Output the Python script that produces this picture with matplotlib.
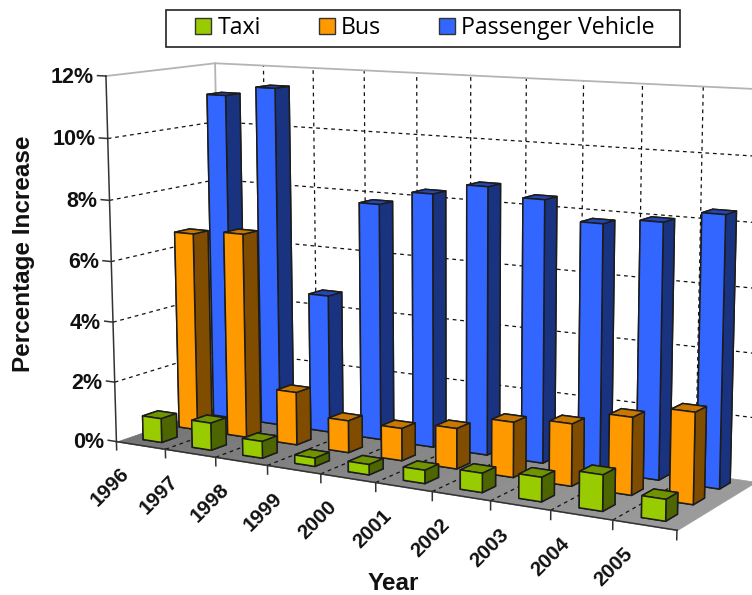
import numpy as np
import matplotlib
matplotlib.use("Agg")
import matplotlib.pyplot as plt
from matplotlib.patches import Patch, Rectangle
from mpl_toolkits.mplot3d import Axes3D
from mpl_toolkits.mplot3d.art3d import Poly3DCollection

# ---- data -------------------------------------------------------------
years = [1996, 1997, 1998, 1999, 2000, 2001, 2002, 2003, 2004, 2005]
taxi = [0.8, 0.9, 0.55, 0.27, 0.33, 0.42, 0.6, 0.75, 1.1, 0.65]
bus = [6.65, 6.8, 1.75, 1.05, 1.05, 1.3, 1.75, 1.95, 2.4, 2.8]
passenger = [11.07, 11.4, 4.62, 7.82, 8.3, 8.67, 8.4, 7.8, 8.0, 8.38]
series_names = ["Taxi", "Bus", "Passenger Vehicle"]
y_ticks = [0, 2, 4, 6, 8, 10, 12]

W, H = 752, 595
FACE = ["#99CC00", "#FF9900", "#3366FF"]
SIDE = ["#4D6600", "#804D00", "#1A3380"]
TOP = ["#6F9400", "#C87800", "#2548B8"]

# ---- camera: fit a projective map (category, depth, percent) -> pixels --
calib = [
    (0, 0, 0, 116.5, 441.7), (10, 0, 0, 677.7, 530), (0, 1, 0, 222, 405),
    (10, 1, 0, 756, 482), (0, 0, 12, 106, 76), (0, 1, 12, 215, 63),
    (10, 1, 12, 766, 89.7), (0, 0, 6, 111.5, 262), (0, 1, 6, 218.5, 237),
    (5, 0, 0, 376, 482.5), (5, 1, 12, 471, 75.4), (9, 1, 12, 703, 86.6),
    (9, 1, 6, 699, 283), (2, 1, 12, 313, 67.7), (2, 0, 0, 215, 457.2),
    (8, 0, 0, 550, 510),
]
rows = []
for X, Y, Z, px, py in calib:
    py = H - py
    rows.append([X, Y, Z, 1, 0, 0, 0, 0, -px * X, -px * Y, -px * Z, -px])
    rows.append([0, 0, 0, 0, X, Y, Z, 1, -py * X, -py * Y, -py * Z, -py])
P = np.linalg.svd(np.array(rows, float))[2][-1].reshape(3, 4)
P = P / P[2, 3]


def to_px(X, Y, Z):
    v = P @ np.array([X, Y, Z, 1.0])
    return v[0] / v[2], H - v[1] / v[2]


fig = plt.figure(figsize=(W / 100, H / 100), dpi=100, facecolor="white")
ax = fig.add_axes([0, 0, 1, 1], projection="3d")
ax.apply_aspect = lambda position=None: None
ax.set_position([0, 0, 1, 1])
ax.set_axis_off()
ax.computed_zorder = False
A = ax.transData.inverted().get_matrix()
depth_row = np.array([-0.02, 1.0, -0.01, -3.0])
M = np.vstack([
    A[0, 0] * P[0] + A[0, 1] * P[1] + A[0, 2] * P[2],
    A[1, 0] * P[0] + A[1, 1] * P[1] + A[1, 2] * P[2],
    depth_row,
    P[2],
])
ax.get_proj = lambda: M

# ---- floor ---------------------------------------------------------------
steps = np.linspace(0, 10, 41)
for a, b in zip(steps[:-1], steps[1:]):
    g = 0.46 + 0.15 * a / 10
    c = (g, g, g)
    ax.add_collection3d(Poly3DCollection(
        [[(a, 0, 0), (b, 0, 0), (b, 1, 0), (a, 1, 0)]],
        facecolors=[c], edgecolors=[c], linewidths=0.5, zorder=1))

# ---- grid ----------------------------------------------------------------
dash = dict(color="#111111", lw=0.9, linestyle=(0, (3, 3)), zorder=3)
for z in y_ticks[1:-1]:
    ax.plot([0, 0, 10], [0, 1, 1], [z, z, z], **dash)
for x in range(1, 10):
    ax.plot([x, x], [1, 1], [0, 12], **dash)
    ax.plot([x, x], [0, 1], [0, 0], **dash)
ax.plot([0, 0, 10], [0, 1, 1], [12, 12, 12], color="#B4B4B4", lw=1.3, zorder=3)
ax.plot([0, 0], [1, 1], [0, 12], color="#B4B4B4", lw=1.3, zorder=3)

# ---- axes lines and ticks ---------------------------------------------------
dark = dict(color="#333333", lw=1.1, zorder=4)
ax.plot([0, 0], [0, 0], [0, 12], **dark)
ax.plot([0, 10], [0, 0], [0, 0], **dark)
for z in y_ticks:
    ax.plot([-0.17, 0], [0, 0], [z, z], **dark)
for x in range(0, 11):
    ax.plot([x, x], [0, 0], [-0.28, 0], **dark)

# ---- bars (back row first, left to right) -----------------------------------
BAR_X, BAR_W = 0.30, 0.38
ROW_Y, ROW_D = [0.11, 0.11 + 1 / 3, 0.11 + 2 / 3], 0.14
order = 10
for r, vals in reversed(list(enumerate([taxi, bus, passenger]))):
    for i, v in enumerate(vals):
        faces = [SIDE[r], TOP[r], FACE[r], SIDE[r], SIDE[r], SIDE[r]]
        ax.bar3d(i + BAR_X, ROW_Y[r], 0, BAR_W, ROW_D, v, color=faces,
                 shade=False, edgecolor="#1c1c1c", linewidth=1.1, zorder=order)
        order += 1

# ---- text -------------------------------------------------------------------
bold = dict(family="Liberation Sans", fontweight="bold", color="#111111")


def label(px, py, s, **kw):
    fig.text(px / W, 1 - py / H, s, **kw)


for z in y_ticks:
    px, py = to_px(0, 0, z)
    label(px - 12, py + 1, f"{z}%", ha="right", va="center", fontsize=15.5, **bold)
for i, yr in enumerate(years):
    px, py = to_px(i + 0.5, 0, 0)
    label(px - 31, py + 42, str(yr), ha="center", va="center", rotation=45,
          rotation_mode="anchor", fontsize=14.8, **bold)
label(24, 254, "Percentage Increase", ha="center", va="center", rotation=90,
      fontsize=17.5, **bold)
label(393, 584, "Year", ha="center", va="center", fontsize=17.5, **bold)

fig.add_artist(Rectangle((166 / W, 1 - 47 / H), 514 / W, 37 / H, transform=fig.transFigure,
                         facecolor="white", edgecolor="#222222", linewidth=1.2))
handles = [Patch(facecolor=FACE[k], edgecolor="#333333", linewidth=1.0) for k in range(3)]
leg = fig.legend(handles, series_names, ncol=3, loc="center",
                 bbox_to_anchor=(425 / W, 1 - 28.5 / H),
                 prop={"family": "Open Sans", "size": 16.7}, frameon=False,
                 handlelength=0.69, handleheight=0.69, handletextpad=0.26,
                 columnspacing=2.5, borderpad=0, borderaxespad=0)

fig.savefig("out.png", dpi=100)
